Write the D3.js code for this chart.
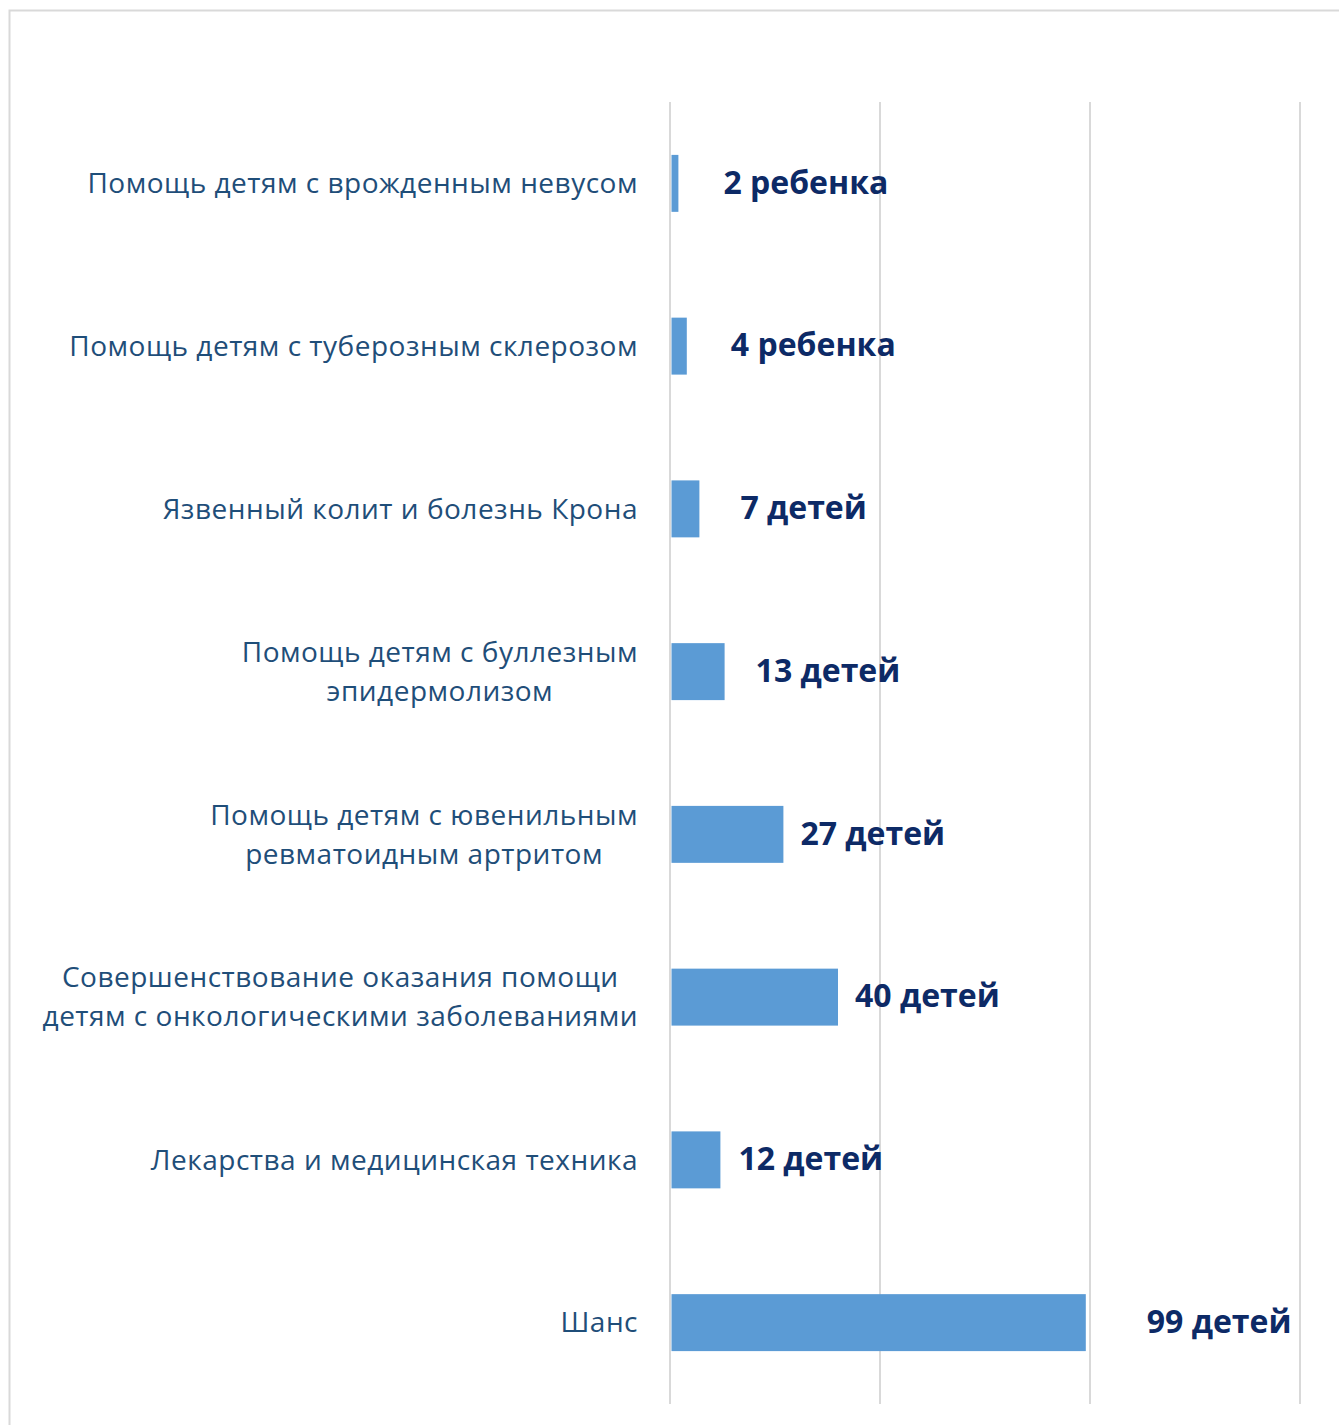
<!DOCTYPE html>
<html><head><meta charset="utf-8">
<script src="https://cdn.jsdelivr.net/npm/d3@7"></script>
<style>
html,body{margin:0;padding:0;background:#fff;}
svg{display:block;}
</style>
</head><body>
<svg id="chart" width="1339" height="1425"></svg>
<script>
// ---- data ----
const categories = [
  ["Помощь детям с врожденным невусом"],
  ["Помощь детям с туберозным склерозом"],
  ["Язвенный колит и болезнь Крона"],
  ["Помощь детям с буллезным", "эпидермолизом"],
  ["Помощь детям с ювенильным", "ревматоидным артритом"],
  ["Совершенствование оказания помощи", "детям с онкологическими заболеваниями"],
  ["Лекарства и медицинская техника"],
  ["Шанс"]
];
const values = [2, 4, 7, 13, 27, 40, 12, 99];
const valueLabels = ["2 ребенка", "4 ребенка", "7 детей", "13 детей", "27 детей", "40 детей", "12 детей", "99 детей"];
const xTicks = [0, 50, 100, 150];

// ---- layout ----
const svg = d3.select("#chart");
const plot = {left: 670, right: 1300, top: 102, bottom: 1404};
const labelNudge = [45, 44, 41, 31, 17, 17, 18, 61];

svg.append("rect").attr("x", 9.5).attr("y", 10.5).attr("width", 1400).attr("height", 1500)
  .attr("fill", "none").attr("stroke", "#D9D9D9").attr("stroke-width", 2);

const x = d3.scaleLinear().domain([0, 150]).range([plot.left, plot.right]);
const y = d3.scaleBand().domain(d3.range(values.length)).range([plot.top, plot.bottom]).paddingInner(0.65).paddingOuter(0.325);

// gridlines
svg.append("g").selectAll("line").data(xTicks).join("line")
  .attr("x1", d => x(d)).attr("x2", d => x(d))
  .attr("y1", plot.top).attr("y2", plot.bottom)
  .attr("stroke", "#D9D9D9").attr("stroke-width", 2);

// bars
svg.append("g").selectAll("rect").data(values).join("rect")
  .attr("x", x(0) + 1.5).attr("y", (d, i) => y(i))
  .attr("width", d => x(d) - x(0) - 1.5).attr("height", y.bandwidth())
  .attr("fill", "#5B9BD5");

// value labels
svg.append("g").selectAll("text").data(values).join("text")
  .attr("x", (d, i) => x(d) + labelNudge[i])
  .attr("y", (d, i) => y(i) + y.bandwidth() / 2 - 1)
  .attr("dy", "0.35em")
  .attr("font-family", "'Open Sans', sans-serif").attr("font-weight", 700)
  .attr("font-size", 32).attr("fill", "#0D2A66")
  .text((d, i) => valueLabels[i]);

// category labels
const catG = svg.append("g");
categories.forEach((lines, i) => {
  const cy = y(i) + y.bandwidth() / 2;
  const lh = 39;
  const t = catG.append("text")
    .attr("font-family", "'Open Sans', sans-serif").attr("font-size", 28)
    .attr("letter-spacing", 0.5)
    .attr("fill", "#1F4E79");
  lines.forEach((ln, j) => {
    t.append("tspan").attr("x", 0).attr("y", cy + (j - (lines.length - 1) / 2) * lh)
      .attr("dy", "0.35em").attr("text-anchor", "middle").text(ln);
  });
  const bb = t.node().getBBox();
  t.attr("transform", `translate(${638 - bb.width / 2},0)`);
});
</script>
</body></html>
